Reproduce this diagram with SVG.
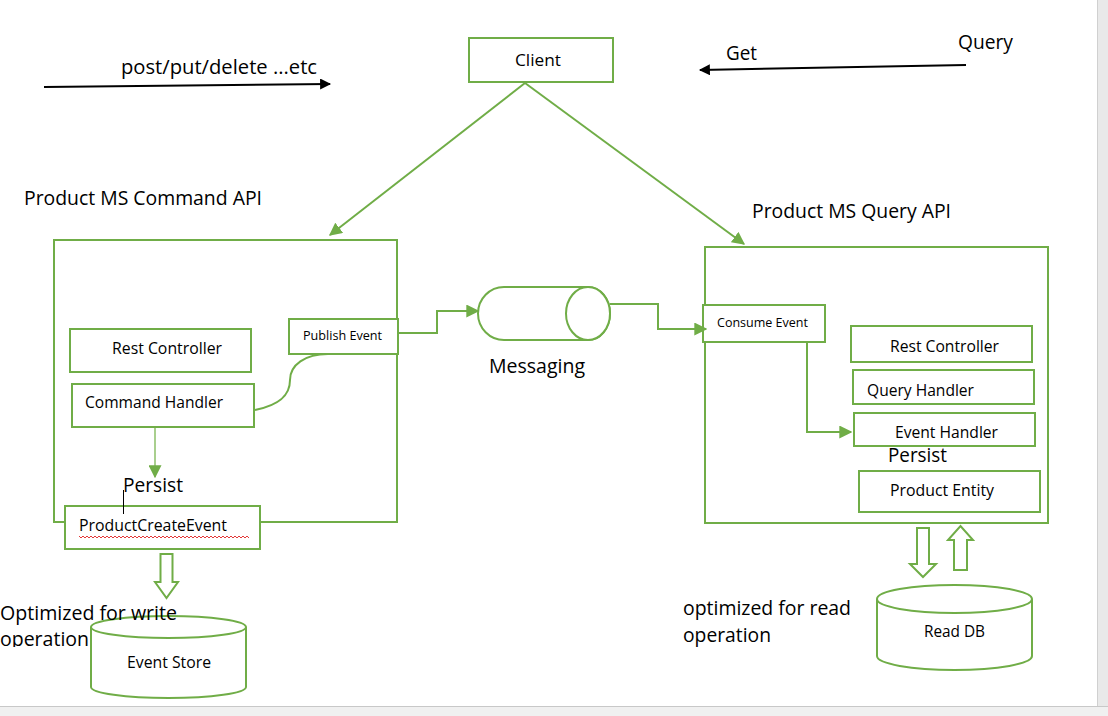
<svg xmlns="http://www.w3.org/2000/svg" width="1108" height="716" viewBox="0 0 1108 716">
<defs>
<style>
.g{fill:#fff;stroke:#70AD47;stroke-width:2}
.gl{fill:none;stroke:#70AD47;stroke-width:2}
.t{font-family:"Open Sans","Liberation Sans",sans-serif;fill:#000}
.big{font-size:20px}
.mid{font-size:16px}
.sm{font-size:13px}
</style>
<marker id="ga2" viewBox="0 0 10 10" refX="9" refY="5" markerWidth="13" markerHeight="13" orient="auto" markerUnits="userSpaceOnUse">
<path d="M0,0 L10,5 L0,10 z" fill="#70AD47"/>
</marker>
<marker id="ba" viewBox="0 0 10 10" refX="9" refY="5" markerWidth="13" markerHeight="11" orient="auto" markerUnits="userSpaceOnUse">
<path d="M0,0 L10,5 L0,10 z" fill="#000"/>
</marker>
<clipPath id="clipw"><rect x="0" y="590" width="300" height="57"/></clipPath>
</defs>
<rect width="1108" height="716" fill="#fff"/>
<rect x="1097" y="0" width="11" height="706" fill="#e9e9e9"/>
<line x1="1097.5" y1="0" x2="1097.5" y2="706" stroke="#d0d0d0"/>
<rect x="0" y="706" width="1108" height="10" fill="#f0f0f0"/>
<line x1="0" y1="706.5" x2="1108" y2="706.5" stroke="#c8c8c8"/>

<g id="command-api">
<rect class="g" x="54" y="240" width="343" height="282"/>
</g>
<g id="query-api">
<rect class="g" x="705" y="247" width="343" height="276"/>
</g>

<g id="client">
<rect class="g" x="469" y="38" width="144" height="44"/>
<text class="t mid" x="515" y="66" textLength="46" lengthAdjust="spacingAndGlyphs">Client</text>
</g>

<g id="rest-controller-cmd">
<rect class="g" x="70" y="329" width="181" height="43"/>
<text class="t mid" x="112" y="354" textLength="110" lengthAdjust="spacingAndGlyphs">Rest Controller</text>
</g>
<g id="command-handler">
<rect class="g" x="72" y="384" width="182" height="43"/>
<text class="t mid" x="85" y="408" textLength="138" lengthAdjust="spacingAndGlyphs">Command Handler</text>
</g>
<g id="publish-event">
<rect class="g" x="289" y="319" width="109" height="35"/>
<text class="t sm" x="303" y="340" textLength="79" lengthAdjust="spacingAndGlyphs">Publish Event</text>
</g>
<g id="product-create-event">
<rect class="g" x="65" y="506" width="195" height="43"/>
<text class="t mid" x="79" y="531" textLength="148" lengthAdjust="spacingAndGlyphs">ProductCreateEvent</text>
<path d="M79,536 l2,2 l2,-2 l2,2 l2,-2 l2,2 l2,-2 l2,2 l2,-2 l2,2 l2,-2 l2,2 l2,-2 l2,2 l2,-2 l2,2 l2,-2 l2,2 l2,-2 l2,2 l2,-2 l2,2 l2,-2 l2,2 l2,-2 l2,2 l2,-2 l2,2 l2,-2 l2,2 l2,-2 l2,2 l2,-2 l2,2 l2,-2 l2,2 l2,-2 l2,2 l2,-2 l2,2 l2,-2 l2,2 l2,-2 l2,2 l2,-2 l2,2 l2,-2 l2,2 l2,-2 l2,2 l2,-2 l2,2 l2,-2 l2,2 l2,-2 l2,2 l2,-2 l2,2 l2,-2 l2,2 l2,-2 l2,2 l2,-2 l2,2 l2,-2 l2,2 l2,-2 l2,2 l2,-2 l2,2 l2,-2 l2,2 l2,-2 l2,2 l2,-2 l2,2 l2,-2 l2,2 l2,-2 l2,2 l2,-2 l2,2 l2,-2 l2,2 l2,-2 l2,2" fill="none" stroke="#e02020" stroke-width="0.9"/>
<line x1="123.5" y1="490" x2="123.5" y2="514" stroke="#000" stroke-width="1"/>
</g>

<g id="event-store">
<path class="g" d="M91,627 L91,687 A77.5,11 0 0 0 246,687 L246,627"/>
<ellipse class="g" cx="168.5" cy="627" rx="77.5" ry="11"/>
<text class="t mid" x="127" y="668" textLength="84" lengthAdjust="spacingAndGlyphs">Event Store</text>
</g>

<g id="messaging">
<path class="g" d="M504,287 L588,287 A22,26.5 0 0 1 588,340 L504,340 A26,26.5 0 0 1 504,287 Z"/>
<ellipse class="g" cx="588" cy="313.5" rx="22" ry="26.5"/>
</g>

<g id="consume-event">
<rect class="g" x="703" y="305" width="122" height="37"/>
<text class="t sm" x="717" y="327" textLength="91" lengthAdjust="spacingAndGlyphs">Consume Event</text>
</g>
<g id="rest-controller-query">
<rect class="g" x="851" y="326" width="181" height="36"/>
<text class="t mid" x="890" y="352" textLength="109" lengthAdjust="spacingAndGlyphs">Rest Controller</text>
</g>
<g id="query-handler">
<rect class="g" x="853" y="370" width="181" height="34"/>
<text class="t mid" x="867" y="396" textLength="107" lengthAdjust="spacingAndGlyphs">Query Handler</text>
</g>
<g id="event-handler">
<rect class="g" x="854" y="413" width="181" height="33"/>
<text class="t mid" x="895" y="438" textLength="103" lengthAdjust="spacingAndGlyphs">Event Handler</text>
</g>
<g id="product-entity">
<rect class="g" x="859" y="471" width="181" height="41"/>
<text class="t mid" x="890" y="496" textLength="104" lengthAdjust="spacingAndGlyphs">Product Entity</text>
</g>

<g id="read-db">
<path class="g" d="M877,599 L877,656 A77.5,14 0 0 0 1032,656 L1032,599"/>
<ellipse class="g" cx="954.5" cy="599" rx="77.5" ry="14"/>
<text class="t mid" x="924" y="637" textLength="61" lengthAdjust="spacingAndGlyphs">Read DB</text>
</g>

<g id="connectors">
<line x1="44" y1="87" x2="330" y2="84" stroke="#000" stroke-width="2" marker-end="url(#ba)"/>
<line x1="966" y1="65" x2="700" y2="70" stroke="#000" stroke-width="2" marker-end="url(#ba)"/>
<line x1="525" y1="83" x2="330" y2="235" class="gl" marker-end="url(#ga2)"/>
<line x1="525" y1="83" x2="744" y2="244" class="gl" marker-end="url(#ga2)"/>
<path class="gl" d="M255,410 C280,405 290,395 290,380 C290,365 305,354 328,354"/>
<line x1="155" y1="428" x2="155" y2="477" stroke="#8cbf68" stroke-width="1.5" marker-end="url(#ga2)"/>
<path class="gl" d="M398,333 L437,333 L437,311 L478,311" marker-end="url(#ga2)"/>
<path class="gl" d="M610,304 L658,304 L658,329 L706,329" marker-end="url(#ga2)"/>
<path class="gl" d="M807,342 L807,432 L851,432" marker-end="url(#ga2)"/>
<path class="g" d="M160.5,554 L172.5,554 L172.5,582 L178,582 L166.5,598 L155,582 L160.5,582 Z"/>
<path class="g" d="M917,528 L929,528 L929,564 L936,564 L923,577 L910,564 L917,564 Z"/>
<path class="g" d="M954,570 L967,570 L967,540 L973,540 L960.5,526 L948,540 L954,540 Z"/>
</g>

<g id="labels">
<text class="t big" x="121" y="74" textLength="196" lengthAdjust="spacingAndGlyphs">post/put/delete ...etc</text>
<text class="t big" x="726" y="60" textLength="31" lengthAdjust="spacingAndGlyphs">Get</text>
<text class="t big" x="958" y="49" textLength="55" lengthAdjust="spacingAndGlyphs">Query</text>
<text class="t big" x="24" y="205" textLength="238" lengthAdjust="spacingAndGlyphs">Product MS Command API</text>
<text class="t big" x="752" y="218" textLength="199" lengthAdjust="spacingAndGlyphs">Product MS Query API</text>
<text class="t big" x="489" y="373" textLength="96" lengthAdjust="spacingAndGlyphs">Messaging</text>
<text class="t big" x="123" y="492" textLength="60" lengthAdjust="spacingAndGlyphs">Persist</text>
<text class="t big" x="888" y="462" textLength="59" lengthAdjust="spacingAndGlyphs">Persist</text>
<g clip-path="url(#clipw)">
<text class="t big" x="0" y="620" textLength="177" lengthAdjust="spacingAndGlyphs">Optimized for write</text>
<text class="t big" x="0" y="646" textLength="89" lengthAdjust="spacingAndGlyphs">operation</text>
</g>
<text class="t big" x="683" y="615" textLength="168" lengthAdjust="spacingAndGlyphs">optimized for read</text>
<text class="t big" x="683" y="642" textLength="88" lengthAdjust="spacingAndGlyphs">operation</text>
</g>
</svg>
